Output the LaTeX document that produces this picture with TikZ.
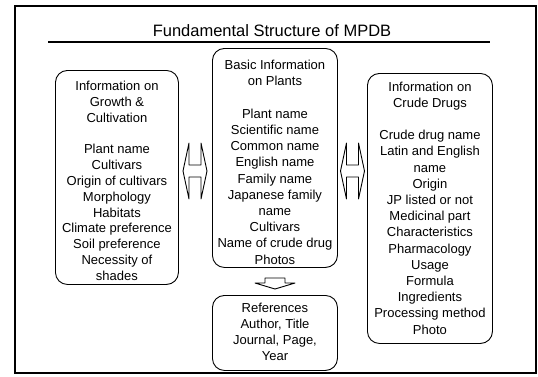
\documentclass[tikz,border=0pt]{standalone}
\usepackage{fontspec}
\setmainfont{Liberation Sans}
\begin{document}
\begin{tikzpicture}[x=1pt,y=-1pt,
  box/.style={draw,rounded corners=12pt,line width=0.9pt,inner sep=0pt,anchor=north west},
  txt/.style={font=\fontsize{13}{16.2}\selectfont,align=center,inner sep=0pt,anchor=north},
  blk/.style={draw,line width=0.9pt,line join=round}]
\useasboundingbox (0,0) rectangle (538,376);
\node[draw,line width=2pt,minimum width=521pt,minimum height=367pt,anchor=north west,inner sep=0pt] (frame) at (14,5) {};
\node[font=\fontsize{16.5}{20}\selectfont,anchor=base,inner sep=0pt] (title) at (272,36.5) {Fundamental Structure of MPDB};
\coordinate (ulA) at (48,42);
\coordinate (ulB) at (490,42);
\draw[line width=1.2pt] (ulA) -- (ulB);

\node[box,minimum width=123pt,minimum height=214pt] (grow) at (55,70) {};
\node[box,minimum width=125pt,minimum height=219pt] (basic) at (212,48) {};
\node[box,minimum width=125pt,minimum height=270pt] (crude) at (367,73) {};
\node[box,minimum width=125pt,minimum height=75pt] (refs) at (212,295) {};

\node[txt,font=\fontsize{13}{15.8}\selectfont,yshift=-11pt] (growT) at (grow.north) {Information on\\Growth \&\\Cultivation\\[15.8pt]Plant name\\Cultivars\\Origin of cultivars\\Morphology\\Habitats\\Climate preference\\Soil preference\\Necessity of\\shades};
\node[txt,yshift=-12pt] (basicT) at (basic.north) {Basic Information\\on Plants\\[16.2pt]Plant name\\Scientific name\\Common name\\English name\\Family name\\Japanese family\\name\\Cultivars\\Name of crude drug\\Photos};
\node[txt,yshift=-8.5pt] (crudeT) at (crude.north) {Information on\\Crude Drugs\\[16.2pt]Crude drug name\\Latin and English\\name\\Origin\\JP listed or not\\Medicinal part\\Characteristics\\Pharmacology\\Usage\\Formula\\Ingredients\\Processing method\\Photo};
\node[txt,font=\fontsize{13}{15.8}\selectfont,yshift=-8pt] (refsT) at (refs.north) {References\\Author, Title\\Journal, Page,\\Year};

\coordinate (la) at (195,171);
\coordinate (ra) at (352.5,171);
\coordinate (da) at (275,283);
\draw[blk,shift={(la)}] (-12,0) -- (-6,-28) -- (-6,-6) -- (6,-6) -- (6,-28) -- (12,0) -- (6,28) -- (6,6) -- (-6,6) -- (-6,28) -- cycle;
\draw[blk,shift={(ra)}] (-12,0) -- (-6,-28) -- (-6,-6) -- (6,-6) -- (6,-28) -- (12,0) -- (6,28) -- (6,6) -- (-6,6) -- (-6,28) -- cycle;
\draw[blk,shift={(da)}] (-10,-5) -- (10,-5) -- (10,0) -- (20,0) -- (0,6) -- (-20,0) -- (-10,0) -- cycle;
\end{tikzpicture}
\end{document}
